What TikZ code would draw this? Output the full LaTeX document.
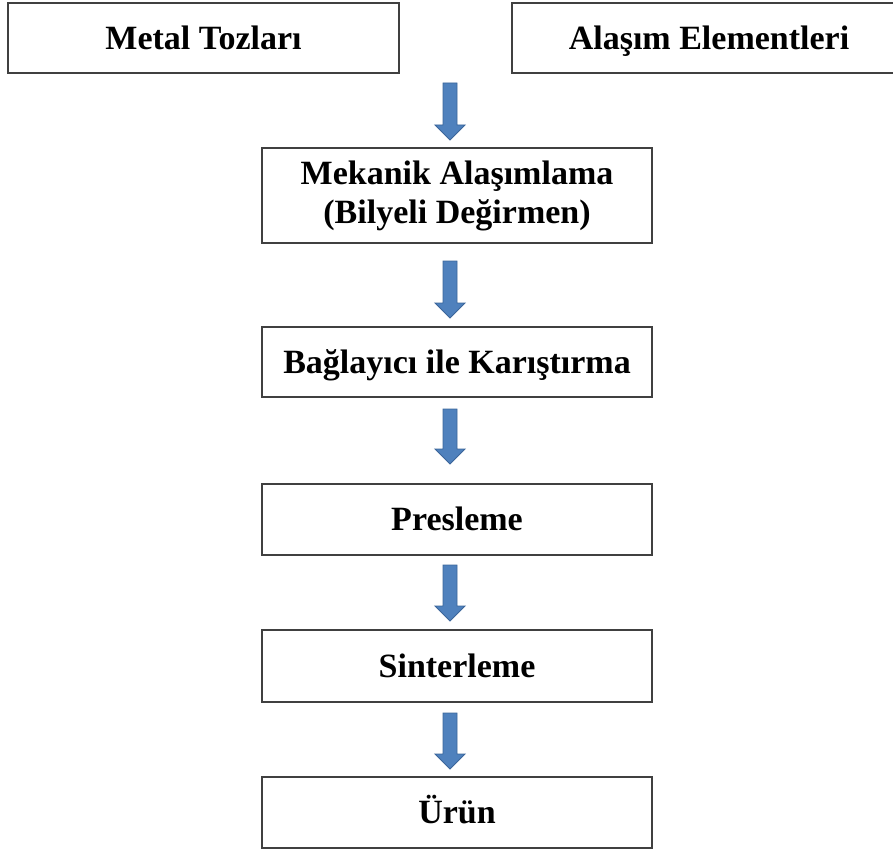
\documentclass[tikz,border=0pt]{standalone}
\usepackage{fontspec}
\setmainfont{Liberation Serif}
\usetikzlibrary{calc}
\definecolor{boxline}{HTML}{404040}
\definecolor{arrfill}{HTML}{4F81BD}
\definecolor{arrline}{HTML}{3B659A}
\newcommand\myblockarrow[2]{%
  \draw[barrow] ($(#1)+(-7,0)$) -- ($(#1)+(7,0)$) -- ($(#2)+(7,-15)$) -- ($(#2)+(15,-15)$) -- (#2) -- ($(#2)+(-15,-15)$) -- ($(#2)+(-7,-15)$) -- cycle;}
\begin{document}
\begin{tikzpicture}[x=1pt,y=-1pt,
  box/.style={draw=boxline, line width=1.8pt, fill=white, inner sep=0pt,
    font=\fontsize{34}{39}\selectfont\bfseries, align=center},
  oneline/.style={text height=29.5pt, text depth=7pt},
  barrow/.style={fill=arrfill, draw=arrline, line width=0.9pt, line join=miter}]
\useasboundingbox (0,0) rectangle (893,850);
\node[box, oneline, minimum width=391pt, minimum height=70pt] (b1) at (203.5,38) {Metal Tozları};
\node[box, oneline, minimum width=394pt, minimum height=70pt] (b2) at (709,38) {Alaşım Elementleri};
\node[box, minimum width=390pt, minimum height=95pt] (b3) at (457,195.5) {Mekanik Alaşımlama\\(Bilyeli Değirmen)};
\node[box, oneline, minimum width=390pt, minimum height=70pt] (b4) at (457,362) {Bağlayıcı ile Karıştırma};
\node[box, oneline, minimum width=390pt, minimum height=71pt] (b5) at (457,519.5) {Presleme};
\node[box, oneline, minimum width=390pt, minimum height=72pt] (b6) at (457,666) {Sinterleme};
\node[box, oneline, minimum width=390pt, minimum height=71pt] (b7) at (457,812.5) {Ürün};
\coordinate (a1s) at (450,83);  \coordinate (a1e) at (450,140);
\coordinate (a2s) at (450,261); \coordinate (a2e) at (450,318);
\coordinate (a3s) at (450,409); \coordinate (a3e) at (450,464);
\coordinate (a4s) at (450,565); \coordinate (a4e) at (450,621);
\coordinate (a5s) at (450,713); \coordinate (a5e) at (450,769);
\myblockarrow{a1s}{a1e}
\myblockarrow{a2s}{a2e}
\myblockarrow{a3s}{a3e}
\myblockarrow{a4s}{a4e}
\myblockarrow{a5s}{a5e}
\end{tikzpicture}
\end{document}
